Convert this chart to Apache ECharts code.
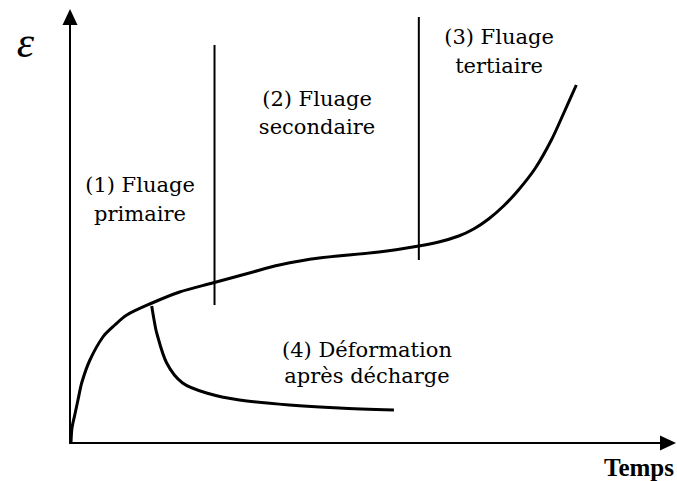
<!DOCTYPE html>
<html>
<head>
<meta charset="utf-8">
<script src="https://cdn.jsdelivr.net/npm/echarts@6/dist/echarts.min.js"></script>
<style>
  html, body { margin: 0; padding: 0; background: #fff; }
  #main { width: 677px; height: 481px; }
</style>
</head>
<body>
<div id="main"></div>
<script>
// courbe de fluage (temps, deformation)
var fluageT = [1, 2, 5, 8, 12, 20, 33, 45, 57, 80, 110, 143, 180, 210, 250, 310, 350, 370, 390, 405, 420, 435, 450, 467, 483, 495, 508];
var fluageE = [0, 15, 29, 43, 61, 83, 106, 118, 128, 139, 151, 160, 170, 178, 185, 191, 197, 201, 207, 214, 224, 237, 253, 275, 303, 329, 358];

// deformation apres decharge
var dechargeT = [82, 84, 87, 97, 113, 137, 170, 220, 270, 325];
var dechargeE = [137, 125, 110, 80, 60, 50, 43, 38, 35, 33];

// limites des stades (1)/(2) et (2)/(3)
var limitesT = [145, 350];
var limitesBas = [138, 183];
var limitesHaut = [398, 426];

// une ligne de texte par entree
var labels = [
  "(1) Fluage", "primaire",
  "(2) Fluage", "secondaire",
  "(3) Fluage", "tertiaire",
  "(4) Déformation", "après décharge"
];

function pairs(xs, ys) {
  var out = [];
  for (var i = 0; i < xs.length; i++) out.push([xs[i], ys[i]]);
  return out;
}

var serif = "Liberation Serif";
var serifTexte = "DejaVu Serif";  // le regular Liberation Serif ne sort pas
var taille = 21;

// annotations placees avec le composant title (centre x, milieu y)
function annot(txt, cx, cy) {
  return {
    text: txt,
    left: cx,
    top: cy - taille / 2,
    textAlign: "center",
    padding: 0,
    textStyle: { fontFamily: serifTexte, fontSize: taille, fontWeight: "normal", color: "#000" }
  };
}

var series = [
  {
    name: "fluage",
    type: "line",
    data: pairs(fluageT, fluageE),
    smooth: 0.3,
    symbol: "none",
    lineStyle: { color: "#000", width: 3 }
  },
  {
    name: "decharge",
    type: "line",
    data: pairs(dechargeT, dechargeE),
    smooth: 0.3,
    symbol: "none",
    lineStyle: { color: "#000", width: 3 }
  }
];
limitesT.forEach(function (t, i) {
  series.push({
    name: "limite" + (i + 1),
    type: "line",
    data: [[t, limitesBas[i]], [t, limitesHaut[i]]],
    symbol: "none",
    clip: false,
    lineStyle: { color: "#000", width: 2 }
  });
});

var chart = echarts.init(document.getElementById("main"), null, { renderer: "svg" });
chart.setOption({
  backgroundColor: "#fff",
  animation: false,
  title: [
    annot(labels[0], 140, 185), annot(labels[1], 140, 214),
    annot(labels[2], 317, 99), annot(labels[3], 317, 127),
    annot(labels[4], 499, 37), annot(labels[5], 499, 66),
    annot(labels[6], 367, 350), annot(labels[7], 367, 376)
  ],
  grid: { left: 70, right: 7, top: 17, bottom: 38 },
  xAxis: {
    type: "value",
    min: 0,
    max: 600,
    name: "Temps",
    nameLocation: "end",
    nameGap: 6,
    nameTextStyle: {
      fontFamily: serif, fontWeight: "bold", fontSize: 25, color: "#000",
      align: "right", verticalAlign: "top", padding: [12, 0, 0, 0]
    },
    axisLine: { lineStyle: { color: "#000", width: 2 }, symbol: ["none", "triangle"], symbolSize: [15, 16] },
    axisTick: { show: false },
    axisLabel: { show: false },
    splitLine: { show: false }
  },
  yAxis: {
    type: "value",
    min: 0,
    max: 426,
    name: "\u03b5",
    nameLocation: "end",
    nameGap: -25,
    nameTextStyle: {
      fontFamily: serif, fontStyle: "italic", fontSize: 44, color: "#000",
      align: "right", verticalAlign: "middle", padding: [0, 36, 0, 0]
    },
    axisLine: { lineStyle: { color: "#000", width: 2 }, symbol: ["none", "triangle"], symbolSize: [15, 16] },
    axisTick: { show: false },
    axisLabel: { show: false },
    splitLine: { show: false }
  },
  series: series
});
</script>
</body>
</html>
